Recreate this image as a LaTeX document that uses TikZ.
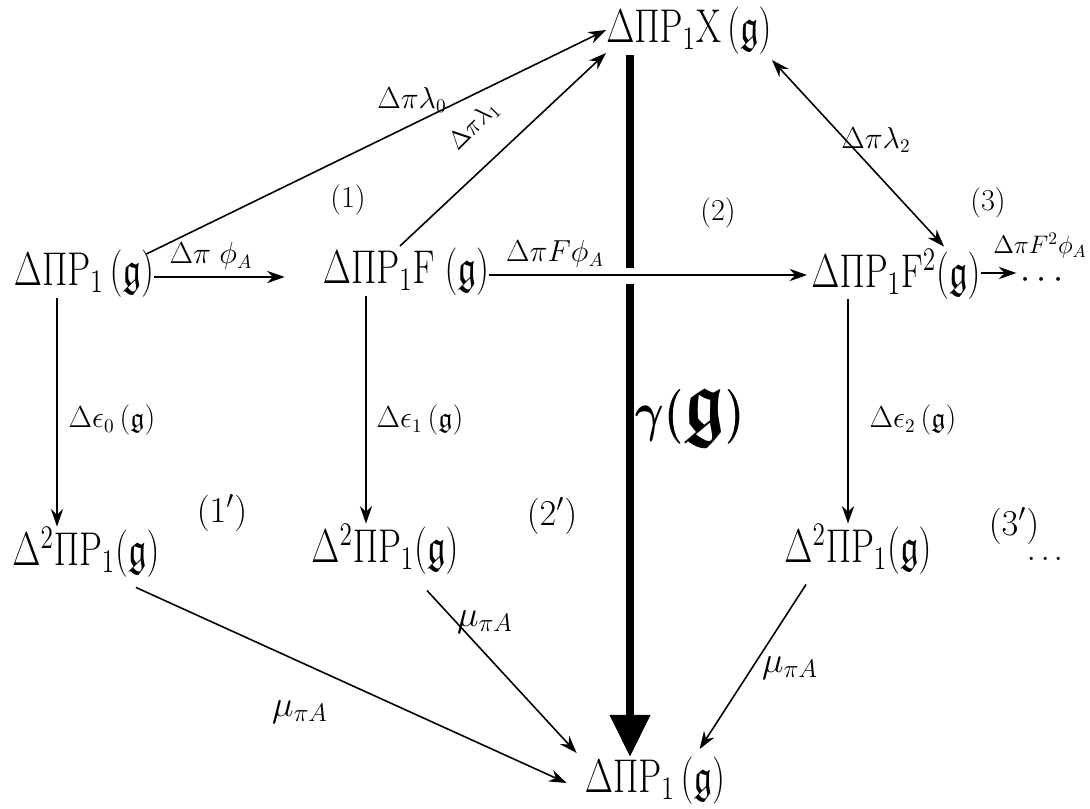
\documentclass[tikz,border=0pt]{standalone}
\usepackage{amsmath,amssymb}
\usetikzlibrary{arrows.meta,calc}
\newcommand\tallobj[1]{\scalebox{1}[1.3]{$#1$}}
\newcommand\Pone{\mathrm{P}_{1}}
\begin{document}
\begin{tikzpicture}[x=0.02cm,y=-0.02cm,
  main/.style={inner sep=0pt,font=\fontsize{21}{24}\selectfont},
  lab/.style={inner sep=1pt,font=\fontsize{16}{18}\selectfont},
  mulab/.style={inner sep=1pt,font=\fontsize{20}{22}\selectfont},
  reg/.style={inner sep=1pt,font=\fontsize{17}{19}\selectfont},
  regp/.style={inner sep=1pt,font=\fontsize{22}{24}\selectfont},
  arr/.style={line width=0.9pt,-{Stealth[length=10pt,width=7pt]}},
  darr/.style={line width=0.9pt,{Stealth[length=10pt,width=7pt]}-{Stealth[length=10pt,width=7pt]}},
  thickarr/.style={line width=5pt,-{Triangle[length=24pt,width=22pt]}}]
\useasboundingbox (0,0) rectangle (1090,809);
% objects
\node[main] (X) at (689,31) {\tallobj{\Delta\Pi\Pone\mathrm{X}\,(\mathfrak g)}};
\node[main] (A) at (84,274) {\tallobj{\Delta\Pi\Pone\,(\mathfrak g)}};
\node[main] (B) at (406,272) {\tallobj{\Delta\Pi\Pone\mathrm{F}\;(\mathfrak g)}};
\node[main] (C) at (896,274) {\tallobj{\Delta\Pi\Pone\mathrm{F}^{2}(\mathfrak g)}};
\node[main] (dots) at (1045,280) {$\cdots$};
\node[main] (D0) at (86,552) {\tallobj{\Delta^{2}\Pi\Pone(\mathfrak g)}};
\node[main] (D1) at (385,549) {\tallobj{\Delta^{2}\Pi\Pone(\mathfrak g)}};
\node[main] (D2) at (858,549) {\tallobj{\Delta^{2}\Pi\Pone(\mathfrak g)}};
\node[main] (Y) at (655,781) {\tallobj{\Delta\Pi\Pone\,(\mathfrak g)}};
% gamma thick arrow, interrupted by the horizontal arrow
\coordinate (g1) at (630,268);
\coordinate (g2) at (630,284);
\draw[line width=5pt] (X.south -| g1) -- (g1);
\draw[thickarr] (g2) -- (Y.north -| g2);
\node[font=\fontsize{40}{42}\selectfont\boldmath] (gam) at (690,418) {\scalebox{1}[1.25]{$\gamma(\mathfrak g)$}};
% diagonal arrows to X
\coordinate (xa) at (589,30);
\coordinate (xb) at (595,53);
\coordinate (xc) at (779,60);
\draw[arr] ($(A.north east)+(-8,4)$) -- (X.west |- xa);
\draw[arr] ($(B.north)+(-6,-2)$) -- (X.west |- xb);
\draw[darr] ($(C.north)+(48,-2)$) -- (X.east |- xc);
% horizontal arrows
\draw[arr] (A.east |- 0,277) -- ($(B.west |- 0,277)+(-38,0)$);
\draw[arr] (B.east |- 0,275) -- ($(C.west |- 0,275)+(-4,0)$);
\draw[arr] (C.east |- 0,273) -- ($(dots.west |- 0,273)+(-4,0)$);
% vertical arrows
\draw[arr] (A.south -| 57,0) -- (D0.north -| 57,0);
\draw[arr] (B.south -| 366,0) -- (D1.north -| 366,0);
\draw[arr] (C.south -| 848,0) -- (D2.north -| 848,0);
% arrows to Y
\draw[arr] ($(D0.south east)+(-24,10)$) -- ($(Y.west)+(-18,2)$);
\draw[arr] ($(D1.south east)+(-32,16)$) -- ($(Y.north west)+(-8,-4)$);
\draw[arr] ($(D2.south west)+(22,10)$) -- ($(Y.north west)+(115,-8)$);
% labels
\node[lab] (l0) at (412,100) {$\Delta\pi\lambda_0$};
\node[lab,rotate=45,font=\fontsize{14}{16}\selectfont] (l1) at (474,126) {$\Delta\pi\lambda_1$};
\node[lab] (l2) at (876,140) {$\Delta\pi\lambda_2$};
\node[lab] (p0) at (211,256) {$\Delta\pi\;\phi_A$};
\node[lab] (p1) at (555,254) {$\Delta\pi F\phi_A$};
\node[lab,font=\fontsize{14}{16}\selectfont] (p2) at (1040,246) {$\Delta\pi F^2\phi_A$};
\node[lab] (e0) at (112,420) {$\Delta\epsilon_0\,(\mathfrak g)$};
\node[lab] (e1) at (420,420) {$\Delta\epsilon_1\,(\mathfrak g)$};
\node[lab] (e2) at (913,420) {$\Delta\epsilon_2\,(\mathfrak g)$};
\node[mulab] (m0) at (300,712) {$\mu_{\pi A}$};
\node[mulab] (m1) at (485,622) {$\mu_{\pi A}$};
\node[mulab] (m2) at (790,668) {$\mu_{\pi A}$};
\node[reg] (r1) at (348,200) {$(1)$};
\node[reg] (r2) at (718,213) {$(2)$};
\node[reg] (r3) at (988,203) {$(3)$};
\node[regp] (r1p) at (222,513) {$(1')$};
\node[regp] (r2p) at (552,516) {$(2')$};
\node[regp] (r3p) at (1014,526) {$(3')$};
\node[reg] (d3) at (1048,560) {$\cdots$};
\end{tikzpicture}
\end{document}
